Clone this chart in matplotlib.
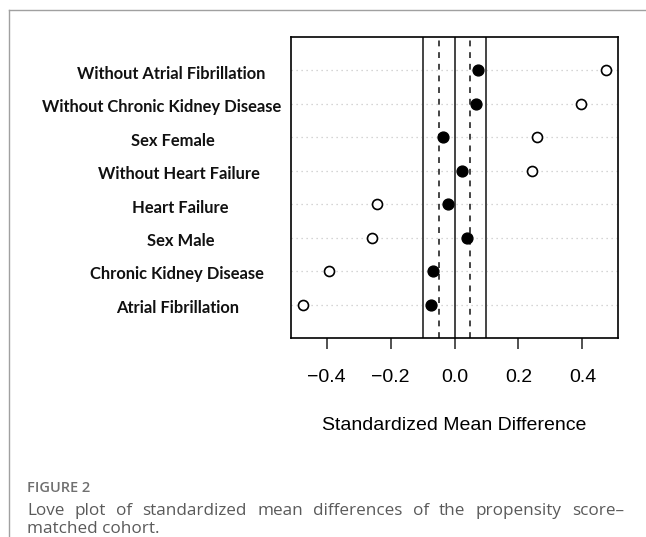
import matplotlib
matplotlib.use("Agg")
import matplotlib.pyplot as plt
from matplotlib.lines import Line2D
import matplotlib.transforms as mtransforms

# covariates, bottom to top
covariates = ["Atrial Fibrillation", "Chronic Kidney Disease", "Sex Male", "Heart Failure",
              "Without Heart Failure", "Sex Female", "Without Chronic Kidney Disease",
              "Without Atrial Fibrillation"]
smd_unmatched = [-0.474, -0.393, -0.257, -0.241, 0.242, 0.258, 0.394, 0.474]
smd_matched = [-0.072, -0.066, 0.040, -0.021, 0.022, -0.037, 0.067, 0.073]

solid_refs = [-0.1, 0.0, 0.1]
dashed_refs = [-0.05, 0.05]
xticks = [-0.4, -0.2, 0.0, 0.2, 0.4]
xticklabels = ["\u22120.4", "\u22120.2", "0.0", "0.2", "0.4"]

caption_title = "FIGURE 2"
caption_line1 = "Love plot of standardized mean differences of the propensity score\u2013"
caption_line2 = "matched cohort."

# label centres in figure pixels (labels were pasted by hand in the original)
label_cx = [178, 177, 181, 180, 179, 173, 162, 171]

W, H = 646, 537
fig = plt.figure(figsize=(W / 100, H / 100), dpi=100)

# outer frame of the figure panel
fig.add_artist(Line2D([9 / W, 9 / W], [0, 1 - 10 / H], color="#a0a0a0", lw=1.0))
fig.add_artist(Line2D([9 / W, 1], [1 - 10 / H, 1 - 10 / H], color="#a0a0a0", lw=1.0))

ax = fig.add_axes([291 / W, 1 - 338 / H, 327 / W, 301 / H])
n = len(covariates)
ys = list(range(1, n + 1))

for y in ys:
    ax.axhline(y, color="#c8c8c8", lw=0.9, ls=(0, (1, 3)), zorder=1)
for v in solid_refs:
    ax.axvline(v, color="#444444", lw=1.4, zorder=2)
for v in dashed_refs:
    ax.axvline(v, color="#444444", lw=1.4, ls=(0, (3, 3)), zorder=2)

ax.plot(smd_unmatched, ys, "o", ms=7.2, mfc="white", mec="black", mew=1.2, ls="none", zorder=3)
ax.plot(smd_matched, ys, "o", ms=7.8, mfc="black", mec="black", mew=1.0, ls="none", zorder=3)

ax.set_xlim(-0.511, 0.511)
ax.set_ylim(0, n + 1)
ax.set_yticks([])
ax.set_xticks(xticks)
ax.set_xticklabels(xticklabels, family="Liberation Sans", fontsize=14)
ax.tick_params(axis="x", direction="out", length=8, width=1.2, pad=14, color="#333333")
for s in ax.spines.values():
    s.set_linewidth(1.2)
ax.set_xlabel("Standardized Mean Difference", family="Liberation Sans", fontsize=14, labelpad=23)

# row labels
trans = mtransforms.blended_transform_factory(fig.transFigure, ax.transData)
for y, lab, cx in zip(ys, covariates, label_cx):
    ax.text(cx / W, y - 0.1, lab, transform=trans, ha="center", va="center",
            family="Lato", fontweight="bold", fontsize=11.9, color="#111111")

# caption
fig.text(27 / W, 1 - 488 / H, caption_title, family="Open Sans", fontsize=10.5,
         fontweight="semibold", color="#707070", va="center")

# first caption line is justified to the text block width
renderer = fig.canvas.get_renderer()
words = caption_line1.split(" ")
cap_kw = dict(family="Open Sans", fontsize=12.3, color="#5a5a5a", va="baseline")
y1 = 1 - 515 / H
objs = [fig.text(0, y1, w, **cap_kw) for w in words]
widths = [o.get_window_extent(renderer).width for o in objs]
x0, x1 = 27, 624
gap = (x1 - x0 - sum(widths)) / (len(words) - 1)
x = x0
for o, w in zip(objs, widths):
    o.set_x(x / W)
    x += w + gap
fig.text(27 / W, 1 - 533 / H, caption_line2, **cap_kw)

fig.savefig("out.png", dpi=100)
